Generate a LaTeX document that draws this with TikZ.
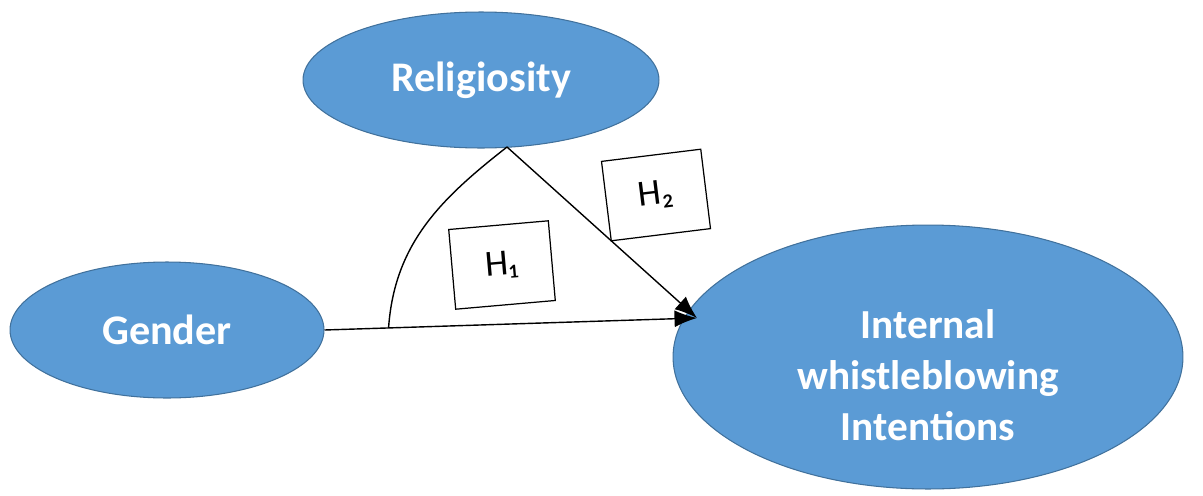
\documentclass[tikz,border=0pt]{standalone}
\usepackage{fontspec}
\setmainfont{Carlito}
\usetikzlibrary{arrows.meta,shapes.geometric}
\definecolor{constructblue}{RGB}{91,155,213}
\definecolor{constructedge}{RGB}{65,113,156}
\tikzset{
  construct/.style={ellipse, draw=constructedge, line width=0.6pt, fill=constructblue,
                    inner sep=0pt, align=center, text=white,
                    font=\fontsize{24}{29}\selectfont\bfseries},
  constructtext/.style={align=center, text=white, inner sep=0pt,
                        font=\fontsize{23.5}{29}\selectfont\bfseries},
  hypbox/.style={draw=black, line width=0.7pt, fill=white, inner sep=0pt,
                 minimum width=2.0cm, minimum height=1.6cm,
                 font=\fontsize{21}{24}\selectfont},
  link/.style={black, line width=0.8pt},
  effect/.style={link, -{Latex[length=4.5mm,width=3.4mm]}},
}

\begin{document}
\begin{tikzpicture}[x=0.02cm,y=0.02cm]
  \path[use as bounding box] (0,0) rectangle (1203,495);

  \node[construct, minimum width=6.28cm, minimum height=2.72cm] (gender) at (167,165) {Gender};
  \node[construct, minimum width=7.12cm, minimum height=2.72cm] (relig) at (481,415) {Religiosity};
  \node[construct, minimum width=10.2cm, minimum height=5.28cm] (intent) at (928,138) {};
  \node[constructtext] (intentlabel) at (928,120)
    {Internal\\whistleblowing\\Intentions};

  \coordinate (tip) at (697,177);
  \coordinate (apex) at (507,348);
  \path (gender.east) -- (tip) coordinate[pos=0.172] (arcfoot);

  \draw[effect] (gender.east) -- (tip);
  \draw[effect] (apex) -- (tip);
  \draw[link] (arcfoot) to[out=86, in=218] (apex);

  \node[hypbox, rotate=5] (h1) at (502,230) {H₁};
  \node[hypbox, rotate=7] (h2) at (656,300) {H₂};
\end{tikzpicture}
\end{document}
